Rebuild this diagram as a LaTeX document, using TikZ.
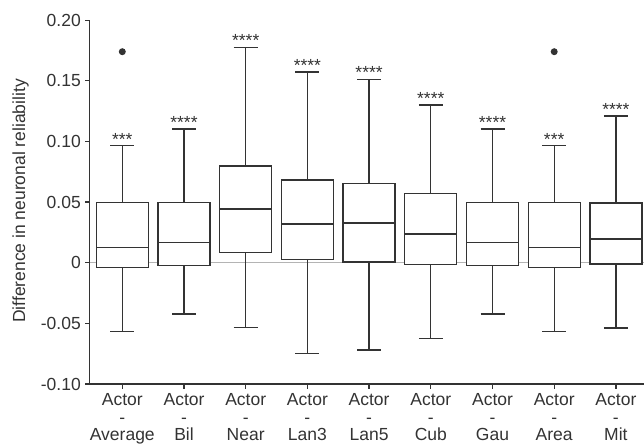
\documentclass[tikz,border=0pt]{standalone}
\usepackage{fontspec}
\setmainfont{Liberation Sans}
\definecolor{ink}{HTML}{333333}
\definecolor{zeroline}{HTML}{B4B4B4}
\begin{document}
\begin{tikzpicture}[x=1pt,y=-1pt,
  every node/.style={font=\fontsize{17.5}{17.5}\selectfont, text=ink, inner sep=0pt},
  plotline/.style={draw=ink, line width=1.3pt},
  boxstyle/.style={draw=ink, line width=1.3pt, fill=white},
  ticklab/.style={anchor=east},
  catlab/.style={anchor=base},
  starlab/.style={anchor=base},
  outlier/.style={fill=ink, draw=none}]
\useasboundingbox (0,0) rectangle (644,446);
% zero reference line
\coordinate (z0) at (89.5,262.7);
\coordinate (z1) at (644,262.7);
\draw[zeroline, line width=1.5pt] (z0) -- (z1);
% axes
\coordinate (ytop) at (89.5,20.2);
\coordinate (orig) at (89.5,384);
\coordinate (xend) at (644,384);
\draw[plotline] (ytop) -- (orig) -- (xend);
% y ticks and labels
\foreach \v/\lab [count=\k] in {0.20/0.20,0.15/0.15,0.10/0.10,0.05/0.05,0/0,-0.05/-0.05,-0.10/-0.10}{
  \pgfmathsetmacro{\yy}{262.7-\v*1212.7}
  \coordinate (yt\k) at (89.5,\yy);
  \coordinate (ytl\k) at (85,\yy);
  \draw[plotline] (ytl\k) -- (yt\k);
  \node[ticklab] (ylab\k) at (81,\yy) {\lab};
}
% axis title
\node[rotate=90, anchor=base] (ytitle) at (25,201) {Difference in neuronal reliability};
% boxes
\foreach \wt/\bt/\md/\bb/\wb/\st/\nm [count=\i from 0] in {
  145.7/202.7/247.7/267.3/331.7/***/Average,
  129/202.7/242.7/265.7/314/****/Bil,
  47.3/166/209/252.3/327.7/****/Near,
  72/180/224/259.7/353.3/****/Lan3,
  79.3/183.7/223/262/350/****/Lan5,
  105/193.7/234/264.7/338.3/****/Cub,
  129/202.3/242.7/265.7/314/****/Gau,
  145.7/202.7/247.7/267.3/331.7/***/Area,
  116/203/239/264/328/****/Mit}{
  \pgfmathsetmacro{\xc}{122.3+61.7*\i}
  \pgfmathsetmacro{\xl}{\xc-26}
  \pgfmathsetmacro{\xr}{\xc+26}
  \pgfmathsetmacro{\cl}{\xc-12}
  \pgfmathsetmacro{\cr}{\xc+12}
  % whiskers
  \coordinate (wt\i) at (\xc,\wt);
  \coordinate (wb\i) at (\xc,\wb);
  \coordinate (bt\i) at (\xc,\bt);
  \coordinate (bb\i) at (\xc,\bb);
  \draw[plotline] (wt\i) -- (bt\i);
  \draw[plotline] (bb\i) -- (wb\i);
  \coordinate (ctl\i) at (\cl,\wt);
  \coordinate (ctr\i) at (\cr,\wt);
  \coordinate (cbl\i) at (\cl,\wb);
  \coordinate (cbr\i) at (\cr,\wb);
  \draw[plotline] (ctl\i) -- (ctr\i);
  \draw[plotline] (cbl\i) -- (cbr\i);
  % box
  \coordinate (bxa\i) at (\xl,\bt);
  \coordinate (bxb\i) at (\xr,\bb);
  \draw[boxstyle] (bxa\i) rectangle (bxb\i);
  \coordinate (mdl\i) at (\xl,\md);
  \coordinate (mdr\i) at (\xr,\md);
  \draw[plotline] (mdl\i) -- (mdr\i);
  % significance
  \node[starlab] (st\i) at (\xc,\wt-0.5) {\st};
  % x tick and labels
  \coordinate (xt\i) at (\xc,384);
  \coordinate (xtb\i) at (\xc,388.5);
  \draw[plotline] (xt\i) -- (xtb\i);
  \node[catlab] (la\i) at (\xc,405.7) {Actor};
  \node[catlab] (lb\i) at (\xc,423.2) {-};
  \node[catlab] (lc\i) at (\xc,440.7) {\nm};
}
% outliers
\node[outlier, circle, minimum size=7pt] (out0) at (122.3,51.7) {};
\node[outlier, circle, minimum size=7pt] (out7) at (554.2,51.7) {};
\end{tikzpicture}
\end{document}
